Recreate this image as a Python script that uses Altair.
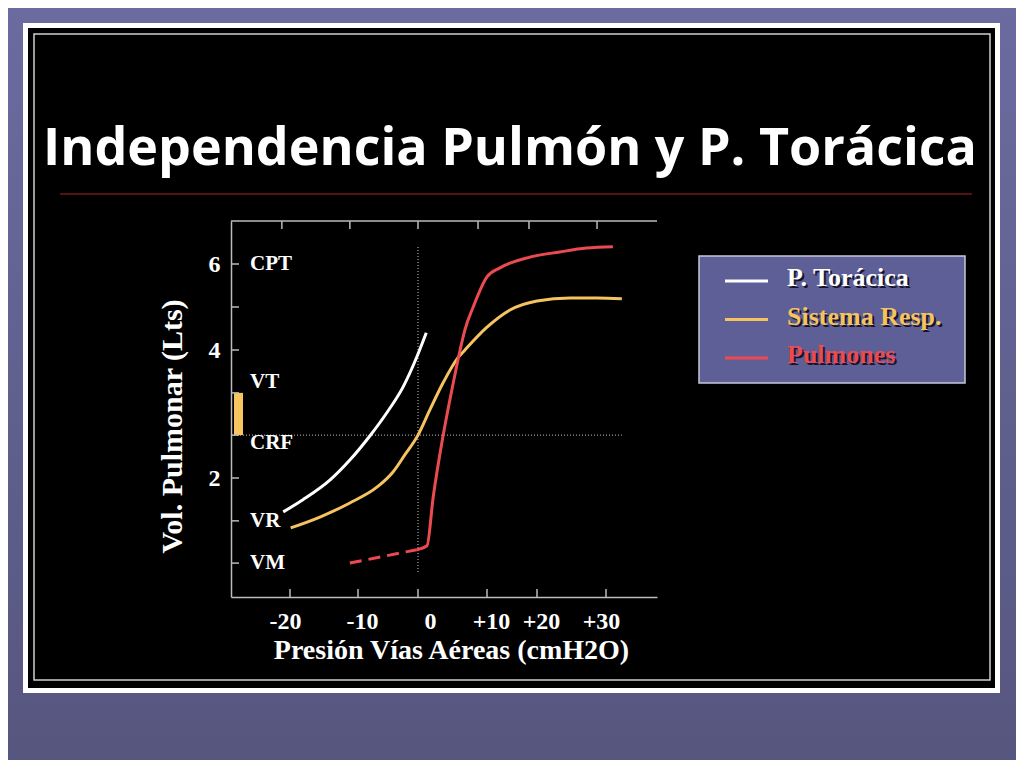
import altair as alt
import pandas as pd

# ---------------- data ----------------
title_text = "Independencia Pulmón y P. Torácica"
series_names = ["P. Torácica", "Sistema Resp.", "Pulmones"]
series_colors = ["#ffffff", "#f5c35f", "#eb4b50"]

# P. Torácica (white)
toracica_x = [-21.0, -18.1, -14.1, -11.2, -8.0, -5.2, -2.5, -0.2, 1.2]
toracica_y = [1.47, 1.66, 1.97, 2.28, 2.66, 3.02, 3.42, 3.89, 4.40]

# Sistema Resp. (yellow)
sistema_x = [-19.9, -15.6, -11.2, -6.8, -4.2, -2.2, 0.0, 1.7, 3.6, 5.8, 6.8,
             10.0, 14.6, 20.0, 24.8, 28.7, 32.3]
sistema_y = [1.22, 1.39, 1.61, 1.86, 2.09, 2.36, 2.67, 3.06, 3.48, 3.88, 4.00,
             4.53, 4.93, 5.14, 5.21, 5.21, 5.19]

# Pulmones (red), solid part
pulmones_x = [-0.2, 1.3, 2.2, 3.6, 5.1, 6.1, 6.8, 8.0, 10.0, 12.6, 18.6, 23.3, 27.2, 31.0]
pulmones_y = [0.88, 0.94, 1.70, 2.64, 3.48, 4.00, 4.47, 5.00, 5.70, 5.91, 6.16, 6.28, 6.37, 6.40]

# Pulmones dashed extension (below VR)
pulmones_ext_x = [-11.2, -0.2]
pulmones_ext_y = [0.67, 0.88]

x_tick_values = [-20, -10, 0, 10, 20, 30]
x_top_tick_values = [-21.2, -11.2, 0, 8.7, 18.4, 28.7]
y_label_values = [2, 4, 6]
y_tick_values = [6, 5, 4, 3.33, 2.67, 2, 1.33, 0.67]

vol_names = ["CPT", "VT", "CRF", "VR", "VM"]
vol_values = [6.0, 3.5, 2.55, 1.33, 0.67]

crf_value = 2.67
vt_top_value = 3.33
zero_line = [0.53, 6.4]
crf_line = [-28.7, 32.3]

# ---------------- layout ----------------
W, H = 426, 376
PAD = {"left": 223, "top": 213, "right": 359, "bottom": 163}
SERIF = "Liberation Serif"

x_scale = alt.Scale(domain=[-28.7, -20, -10, 0, 10, 20, 30, 37.4],
                    range=[0, 59, 127, 187, 256, 306, 375, 426], nice=False, zero=False)
y_scale = alt.Scale(domain=[0.14, 2, 4, 6, 7],
                    range=[376, 257, 129, 43, 0], nice=False, zero=False)
color_scale = alt.Scale(domain=series_names, range=series_colors)

x_axis = alt.Axis(
    values=x_tick_values,
    labelExpr="datum.value > 0 ? '+' + datum.value : (datum.value < 0 ? '-' + abs(datum.value) : '0')",
    labelOffset={"expr": "datum.value == 0 ? 12 : (datum.value == -20 ? -5 : (datum.value == -10 ? 4 : (datum.value == 30 ? -5 : 4)))"},
    labelFont=SERIF, labelFontSize=24, labelFontWeight="bold", labelColor="white",
    labelBaseline="alphabetic", labelPadding=31, labelFlush=False, labelOverlap=False,
    ticks=False, tickSize=0, domainColor="#bbbbbb", domainWidth=1.5, grid=False,
    title="Presión Vías Aéreas (cmH2O)", titleFont=SERIF, titleFontSize=28,
    titleFontWeight="bold", titleColor="white", titleX=220, titleY=61,
    titleAlign="center", titleBaseline="alphabetic", zindex=2)
y_axis = alt.Axis(
    values=y_label_values, format="d",
    labelFont=SERIF, labelFontSize=24, labelFontWeight="bold", labelColor="white",
    labelPadding=11, labelBaseline="middle",
    ticks=False, tickSize=0, domainColor="#bbbbbb", domainWidth=1.5, grid=False,
    title="Vol. Pulmonar (Lts)", titleFont=SERIF, titleFontSize=30,
    titleFontWeight="bold", titleColor="white", titleAngle=270, titleX=-59, titleY=205,
    titleAlign="center", titleBaseline="middle", zindex=2)


def X(f):
    # every x encoding carries the same axis so the shared axis merges cleanly
    return alt.X(f, type="quantitative", scale=x_scale, axis=x_axis)


def Y(f):
    return alt.Y(f, type="quantitative", scale=y_scale, axis=None)


one = pd.DataFrame({"a": [1]})

# slide decoration
bg = alt.Chart(one).mark_rect(
    color=alt.Gradient(gradient="linear",
                       stops=[alt.GradientStop(color="#6b6ba0", offset=0),
                              alt.GradientStop(color="#56567f", offset=1)],
                       x1=0, x2=0, y1=0, y2=1)
).encode(x=alt.value(-223), x2=alt.value(785), y=alt.value(-213), y2=alt.value(539))
frame = alt.Chart(one).mark_rect(color="white").encode(
    x=alt.value(-208), x2=alt.value(769), y=alt.value(-198), y2=alt.value(472))
panel = alt.Chart(one).mark_rect(color="black").encode(
    x=alt.value(-203), x2=alt.value(764), y=alt.value(-193), y2=alt.value(467))
inner = alt.Chart(one).mark_rect(filled=False, stroke="#d0d0d0", strokeWidth=1.5).encode(
    x=alt.value(-197), x2=alt.value(759), y=alt.value(-187), y2=alt.value(459))
title = alt.Chart(pd.DataFrame({"t": [title_text]})).mark_text(
    font="Open Sans", fontSize=52, fontWeight="bold", color="white",
    align="center", baseline="alphabetic"
).encode(x=alt.value(279), y=alt.value(-56), text="t:N")
title_rule = alt.Chart(one).mark_rule(color="#701818", strokeWidth=1.5).encode(
    x=alt.value(-171), x2=alt.value(741), y=alt.value(-27))

# guides
vguide = alt.Chart(pd.DataFrame({"p": [0], "v1": [zero_line[0]], "v2": [zero_line[1]]})).mark_rule(
    color="#9a9a9a", strokeDash=[1, 2], strokeWidth=1.3
).encode(x=X("p"), y=Y("v1"), y2="v2:Q")
hguide = alt.Chart(pd.DataFrame({"p1": [crf_line[0]], "p2": [crf_line[1]], "v": [crf_value]})).mark_rule(
    color="#9a9a9a", strokeDash=[1, 2], strokeWidth=1.3
).encode(x=X("p1"), x2="p2:Q", y=Y("v"))
vt_bar = alt.Chart(pd.DataFrame({"v1": [crf_value], "v2": [vt_top_value]})).mark_rect(
    color="#f9c55e").encode(x=alt.value(3), x2=alt.value(12), y=Y("v1"), y2="v2:Q")

top_line = alt.Chart(one).mark_rule(color="#bbbbbb", strokeWidth=1.5).encode(
    x=alt.value(0), x2=alt.value(W), y=alt.value(0))
left_ticks = alt.Chart(pd.DataFrame({"v": y_tick_values})).mark_rule(
    color="#bbbbbb", strokeWidth=1.5).encode(x=alt.value(0), x2=alt.value(8), y=Y("v"))
bottom_ticks = alt.Chart(pd.DataFrame({"p": x_tick_values})).mark_rule(
    color="#bbbbbb", strokeWidth=1.5).encode(x=X("p"), y=alt.value(H - 8), y2=alt.value(H))
top_ticks = alt.Chart(pd.DataFrame({"p": x_top_tick_values})).mark_rule(
    color="#bbbbbb", strokeWidth=1.5).encode(x=X("p"), y=alt.value(0), y2=alt.value(8))

vol_text = alt.Chart(pd.DataFrame({"name": vol_names, "v": vol_values})).mark_text(
    font=SERIF, fontSize=21, fontWeight="bold", color="white", align="left", baseline="middle"
).encode(x=alt.value(19), y=Y("v"), text="name:N")

# curves
frames = []
for name, xs, ys in [(series_names[0], toracica_x, toracica_y),
                     (series_names[1], sistema_x, sistema_y),
                     (series_names[2], pulmones_x, pulmones_y)]:
    frames.append(pd.DataFrame({"series": name, "p": xs, "v": ys, "ord": range(len(xs))}))
lines_df = pd.concat(frames, ignore_index=True)

curves = alt.Chart(lines_df).mark_line(strokeWidth=3, interpolate="monotone").encode(
    x=X("p"),
    y=alt.Y("v:Q", scale=y_scale, axis=y_axis),
    color=alt.Color("series:N", scale=color_scale, legend=None),
    order="ord:Q")
dashed = alt.Chart(pd.DataFrame({"p": pulmones_ext_x, "v": pulmones_ext_y})).mark_line(
    strokeWidth=3, strokeDash=[12, 7], color=series_colors[2]).encode(x=X("p"), y=Y("v"))

# legend box
legend_df = pd.DataFrame({"series": series_names})
ly = alt.Y("series:N", scale=alt.Scale(type="point", domain=series_names, range=[60, 137], padding=0),
           axis=None)
lcolor = alt.Color("series:N", scale=color_scale, legend=None)
legend_box = alt.Chart(one).mark_rect(fill="#5f5f97", stroke="#c8c8d8", strokeWidth=1.5).encode(
    x=alt.value(468), x2=alt.value(734), y=alt.value(35), y2=alt.value(162))
legend_lines = alt.Chart(legend_df).mark_rule(strokeWidth=3).encode(
    x=alt.value(494), x2=alt.value(537), y=ly, color=lcolor)
legend_shadow = alt.Chart(legend_df).mark_text(
    font=SERIF, fontSize=26, fontWeight="bold", color="#15152a", align="left",
    baseline="middle", dx=2, dy=-1).encode(x=alt.value(556), y=ly, text="series:N")
legend_text = alt.Chart(legend_df).mark_text(
    font=SERIF, fontSize=26, fontWeight="bold", align="left",
    baseline="middle", dy=-3).encode(x=alt.value(556), y=ly, text="series:N", color=lcolor)

chart = alt.layer(
    bg, frame, panel, inner, title, title_rule,
    vguide, hguide, vt_bar, top_line, left_ticks, bottom_ticks, top_ticks, vol_text,
    dashed, curves,
    legend_box, legend_lines, legend_shadow, legend_text
).resolve_scale(y="independent").properties(
    width=W, height=H, padding=PAD,
    autosize=alt.AutoSizeParams(type="none"),
    background="#62629a"
).configure_view(stroke=None)

chart.save("out.html", embed_options={"renderer": "svg", "actions": False})
